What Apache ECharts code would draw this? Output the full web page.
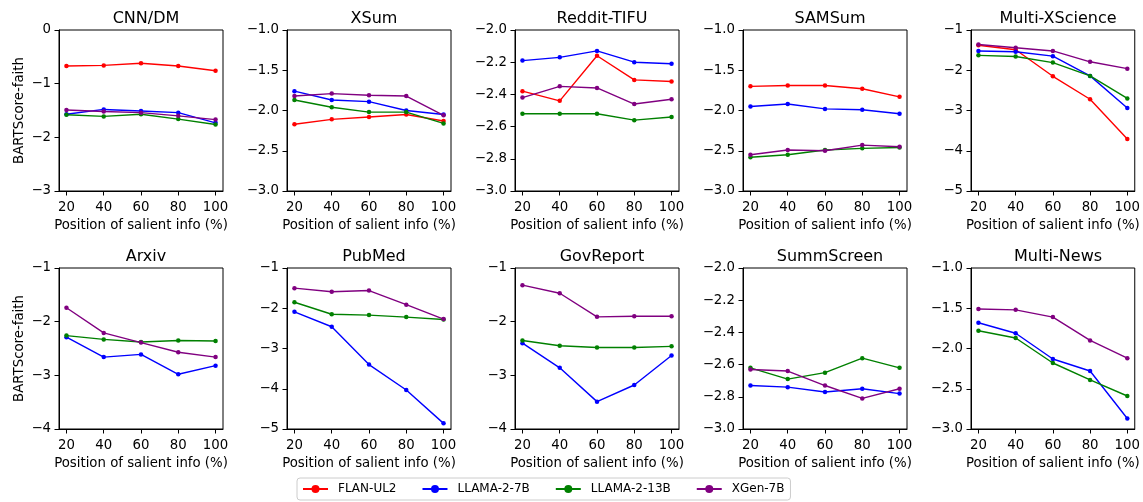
<!DOCTYPE html>
<html>
<head>
<meta charset="utf-8">
<script src="https://cdn.jsdelivr.net/npm/echarts@6/dist/echarts.min.js"></script>
<style>
html,body{margin:0;padding:0;background:#fff;}
#chart{width:1143px;height:502px;}
</style>
</head>
<body>
<div id="chart"></div>
<script>
const positions = [20, 40, 60, 80, 100];
const datasets = ['CNN/DM', 'XSum', 'Reddit-TIFU', 'SAMSum', 'Multi-XScience',
                  'Arxiv', 'PubMed', 'GovReport', 'SummScreen', 'Multi-News'];
const models = ['FLAN-UL2', 'LLAMA-2-7B', 'LLAMA-2-13B', 'XGen-7B'];
const modelColors = ['#ff0000', '#0000ff', '#008000', '#800080'];

// values per dataset (same order as datasets); null = model not evaluated
const flanUL2 = [
  [-0.67, -0.66, -0.62, -0.67, -0.76],
  [-2.17, -2.11, -2.08, -2.05, -2.13],
  [-2.38, -2.44, -2.16, -2.31, -2.32],
  [-1.70, -1.69, -1.69, -1.73, -1.83],
  [-1.38, -1.49, -2.15, -2.72, -3.71],
  null, null, null, null, null
];
const llama2_7b = [
  [-1.57, -1.48, -1.51, -1.54, -1.73],
  [-1.76, -1.87, -1.89, -2.00, -2.05],
  [-2.19, -2.17, -2.13, -2.20, -2.21],
  [-1.95, -1.92, -1.98, -1.99, -2.04],
  [-1.52, -1.54, -1.65, -2.14, -2.94],
  [-2.29, -2.66, -2.61, -2.98, -2.82],
  [-2.09, -2.46, -3.40, -4.03, -4.86],
  [-2.40, -2.86, -3.49, -3.18, -2.63],
  [-2.73, -2.74, -2.77, -2.75, -2.78],
  [-1.68, -1.81, -2.13, -2.28, -2.87]
];
const llama2_13b = [
  [-1.58, -1.61, -1.57, -1.66, -1.76],
  [-1.87, -1.96, -2.02, -2.02, -2.16],
  [-2.52, -2.52, -2.52, -2.56, -2.54],
  [-2.58, -2.55, -2.49, -2.47, -2.46],
  [-1.63, -1.66, -1.81, -2.14, -2.70],
  [-2.26, -2.33, -2.38, -2.35, -2.36],
  [-1.85, -2.15, -2.17, -2.22, -2.28],
  [-2.35, -2.45, -2.48, -2.48, -2.46],
  [-2.62, -2.69, -2.65, -2.56, -2.62],
  [-1.78, -1.87, -2.18, -2.39, -2.59]
];
const xgen7b = [
  [-1.49, -1.52, -1.54, -1.60, -1.67],
  [-1.82, -1.79, -1.81, -1.82, -2.06],
  [-2.42, -2.35, -2.36, -2.46, -2.43],
  [-2.55, -2.49, -2.50, -2.43, -2.45],
  [-1.36, -1.44, -1.52, -1.79, -1.96],
  [-1.74, -2.21, -2.39, -2.57, -2.66],
  [-1.50, -1.59, -1.56, -1.91, -2.27],
  [-1.32, -1.47, -1.91, -1.90, -1.90],
  [-2.63, -2.64, -2.73, -2.81, -2.75],
  [-1.51, -1.52, -1.61, -1.90, -2.12]
];
const modelValues = [flanUL2, llama2_7b, llama2_13b, xgen7b];

// y tick labels for each panel
const yTicks = [
  [0, -1, -2, -3],
  [-1.0, -1.5, -2.0, -2.5, -3.0],
  [-2.0, -2.2, -2.4, -2.6, -2.8, -3.0],
  [-1.0, -1.5, -2.0, -2.5, -3.0],
  [-1, -2, -3, -4, -5],
  [-1, -2, -3, -4],
  [-1, -2, -3, -4, -5],
  [-1, -2, -3, -4],
  [-2.0, -2.2, -2.4, -2.6, -2.8, -3.0],
  [-1.0, -1.5, -2.0, -2.5, -3.0]
];
const yDecimals = [0, 1, 1, 1, 0, 0, 0, 0, 1, 1];
const xLabel = 'Position of salient info (%)';
const yLabel = 'BARTScore-faith';

const FONT = 'DejaVu Sans';
const colLeft = [59, 287, 515, 743, 971];
const rowTop = [30, 268];
const W = 164, H = 161;

function fmt(v, d) {
  const s = Math.abs(v).toFixed(d);
  return (v < 0 ? '\u2212' : '') + s;
}

const grids = [], xAxes = [], yAxes = [], series = [], titles = [];
datasets.forEach((name, i) => {
  const r = Math.floor(i / 5), c = i % 5;
  const left = colLeft[c], top = rowTop[r];
  grids.push({left: left, top: top, width: W, height: H, show: true,
    borderColor: '#000', borderWidth: 1, backgroundColor: 'transparent', containLabel: false});
  titles.push({text: name, left: left + W / 2, top: top - 24, textAlign: 'center',
    textStyle: {fontFamily: FONT, fontSize: 16, fontWeight: 'normal', color: '#000'}});
  xAxes.push({type: 'value', gridIndex: i, min: 16, max: 104,
    name: xLabel, nameLocation: 'middle', nameGap: 28,
    nameTextStyle: {fontFamily: FONT, fontSize: 13.3, color: '#000'},
    axisLine: {show: true, onZero: false, lineStyle: {color: '#000', width: 1}},
    axisTick: {show: true, length: 4.5, customValues: positions, lineStyle: {color: '#000', width: 1}},
    axisLabel: {customValues: positions, margin: 10, fontFamily: FONT, fontSize: 13.3, color: '#000'},
    splitLine: {show: false}});
  const ticks = yTicks[i];
  const d = yDecimals[i];
  yAxes.push({type: 'value', gridIndex: i, min: Math.min(...ticks), max: Math.max(...ticks),
    name: c === 0 ? yLabel : '', nameLocation: 'middle', nameGap: 33, nameRotate: 90,
    nameTextStyle: {fontFamily: FONT, fontSize: 13.3, color: '#000'},
    axisLine: {show: true, onZero: false, lineStyle: {color: '#000', width: 1}},
    axisTick: {show: true, length: 4.5, customValues: ticks, lineStyle: {color: '#000', width: 1}},
    axisLabel: {customValues: ticks, margin: 8, fontFamily: FONT, fontSize: 13.3, color: '#000',
      formatter: v => fmt(v, d)},
    splitLine: {show: false}});
  models.forEach((m, k) => {
    const vals = modelValues[k][i];
    if (!vals) return;
    series.push({type: 'line', name: m, xAxisIndex: i, yAxisIndex: i,
      data: positions.map((p, j) => [p, vals[j]]),
      symbol: 'circle', symbolSize: 4.5, showSymbol: true,
      itemStyle: {color: modelColors[k]},
      lineStyle: {color: modelColors[k], width: 1.4},
      emphasis: {disabled: true}, animation: false});
  });
});

const chart = echarts.init(document.getElementById('chart'), null, {renderer: 'canvas'});
chart.setOption({
  animation: false,
  backgroundColor: '#fff',
  title: titles,
  grid: grids,
  xAxis: xAxes,
  yAxis: yAxes,
  series: series,
  legend: {
    data: models, left: 297, top: 478, orient: 'horizontal',
    itemWidth: 25, itemHeight: 10, itemGap: 25,
    padding: [5, 6, 5, 5],
    borderColor: '#cccccc', borderWidth: 1, borderRadius: 3,
    textStyle: {fontFamily: FONT, fontSize: 12, color: '#000', padding: [0, 0, 0, 5]},
    selectedMode: false
  }
});
</script>
</body>
</html>
